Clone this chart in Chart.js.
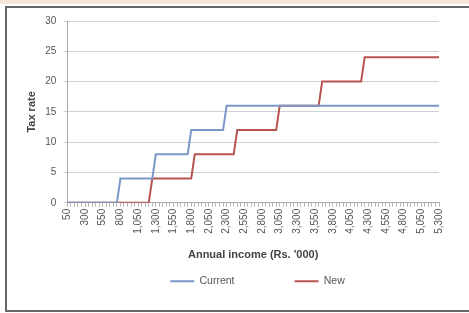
<!DOCTYPE html>
<html>
<head>
<meta charset="utf-8">
<script src="https://cdn.jsdelivr.net/npm/chart.js@4"></script>
<style>
  body { margin: 0; background: #fff; }
  #band { position: absolute; left: 0; top: 0; width: 469px; height: 4px; background: #f7e6d6; }
  #frame { position: absolute; left: 5px; top: 6px; width: 470px; height: 302px;
           border: 2px solid #666; border-right: none; }
  #wrap { position: absolute; left: 0; top: 0; width: 469px; height: 313px; }
</style>
</head>
<body>
<div id="band"></div>
<div id="frame"></div>
<div id="wrap"><canvas id="chart" width="469" height="313"></canvas></div>
<script>
// Annual income categories (Rs. '000)
const incomes = [
  50, 100, 150, 200, 250, 300, 350, 400, 450, 500,
  550, 600, 650, 700, 750, 800, 850, 900, 950, 1000,
  1050, 1100, 1150, 1200, 1250, 1300, 1350, 1400, 1450, 1500,
  1550, 1600, 1650, 1700, 1750, 1800, 1850, 1900, 1950, 2000,
  2050, 2100, 2150, 2200, 2250, 2300, 2350, 2400, 2450, 2500,
  2550, 2600, 2650, 2700, 2750, 2800, 2850, 2900, 2950, 3000,
  3050, 3100, 3150, 3200, 3250, 3300, 3350, 3400, 3450, 3500,
  3550, 3600, 3650, 3700, 3750, 3800, 3850, 3900, 3950, 4000,
  4050, 4100, 4150, 4200, 4250, 4300, 4350, 4400, 4450, 4500,
  4550, 4600, 4650, 4700, 4750, 4800, 4850, 4900, 4950, 5000,
  5050, 5100, 5150, 5200, 5250, 5300
];

// Tax rate (%) under the current schedule
const currentRates = [
  0, 0, 0, 0, 0, 0, 0, 0, 0, 0,
  0, 0, 0, 0, 0, 4, 4, 4, 4, 4,
  4, 4, 4, 4, 4, 8, 8, 8, 8, 8,
  8, 8, 8, 8, 8, 12, 12, 12, 12, 12,
  12, 12, 12, 12, 12, 16, 16, 16, 16, 16,
  16, 16, 16, 16, 16, 16, 16, 16, 16, 16,
  16, 16, 16, 16, 16, 16, 16, 16, 16, 16,
  16, 16, 16, 16, 16, 16, 16, 16, 16, 16,
  16, 16, 16, 16, 16, 16, 16, 16, 16, 16,
  16, 16, 16, 16, 16, 16, 16, 16, 16, 16,
  16, 16, 16, 16, 16, 16
];

// Tax rate (%) under the new schedule
const newRates = [
  0, 0, 0, 0, 0, 0, 0, 0, 0, 0,
  0, 0, 0, 0, 0, 0, 0, 0, 0, 0,
  0, 0, 0, 0, 4, 4, 4, 4, 4, 4,
  4, 4, 4, 4, 4, 4, 8, 8, 8, 8,
  8, 8, 8, 8, 8, 8, 8, 8, 12, 12,
  12, 12, 12, 12, 12, 12, 12, 12, 12, 12,
  16, 16, 16, 16, 16, 16, 16, 16, 16, 16,
  16, 16, 20, 20, 20, 20, 20, 20, 20, 20,
  20, 20, 20, 20, 24, 24, 24, 24, 24, 24,
  24, 24, 24, 24, 24, 24, 24, 24, 24, 24,
  24, 24, 24, 24, 24, 24
];

const yTicks = [0, 5, 10, 15, 20, 25, 30];
const labelEvery = 5;

const font = "'Liberation Sans', Arial, sans-serif";
const legendGap = 60;

// the legend padding is also used vertically, so keep its box short
// and pull it back up after layout; also nudge it right like the original
const legendShift = {
  id: "legendShift",
  afterLayout(chart) {
    const lg = chart.legend;
    lg.top -= legendGap;
    lg.left += 28;
    lg.right += 28;
  },
};

new Chart(document.getElementById("chart"), {
  type: "line",
  data: {
    labels: incomes,
    datasets: [
      {
        label: "Current",
        data: currentRates,
        borderColor: "#7b98c8",
        backgroundColor: "#7b98c8",
        borderWidth: 2,
        pointRadius: 0,
        tension: 0,
      },
      {
        label: "New",
        data: newRates,
        borderColor: "#b85450",
        backgroundColor: "#b85450",
        borderWidth: 2,
        pointRadius: 0,
        tension: 0,
      },
    ],
  },
  plugins: [legendShift],
  options: {
    responsive: false,
    animation: false,
    devicePixelRatio: 1,
    layout: { padding: { left: 20, top: 21, right: 30, bottom: 17 } },
    plugins: {
      tooltip: { enabled: false },
      legend: {
        position: "bottom",
        maxHeight: 20,
        labels: {
          usePointStyle: true,
          pointStyle: "line",
          pointStyleWidth: 24,
          padding: legendGap,
          color: "#555",
          font: { family: font, size: 10.5 },
        },
      },
    },
    scales: {
      x: {
        offset: false,
        border: { color: "#a8a8a8" },
        grid: { drawOnChartArea: false, tickLength: 4, color: "#b8b8b8" },
        ticks: {
          autoSkip: false,
          maxRotation: 90,
          minRotation: 90,
          padding: 2,
          color: "#555",
          font: { family: font, size: 10 },
          callback: function (value, index) {
            return index % labelEvery === 0 ? incomes[index].toLocaleString("en-US") : "";
          },
        },
        title: {
          display: true,
          text: "Annual income (Rs. '000)",
          color: "#444",
          font: { family: font, size: 11, weight: "bold" },
          padding: { top: 13, bottom: 14 },
        },
      },
      y: {
        min: 0,
        max: 30,
        border: { color: "#a8a8a8" },
        grid: { color: "#d0d0d0", tickLength: 4 },
        afterBuildTicks: function (axis) {
          axis.ticks = yTicks.map(function (v) { return { value: v }; });
        },
        ticks: {
          padding: 7,
          color: "#555",
          font: { family: font, size: 10 },
        },
        title: {
          display: true,
          text: "Tax rate",
          color: "#444",
          font: { family: font, size: 11, weight: "bold" },
          padding: { top: 5, bottom: 0 },
        },
      },
    },
  },
});
</script>
</body>
</html>
